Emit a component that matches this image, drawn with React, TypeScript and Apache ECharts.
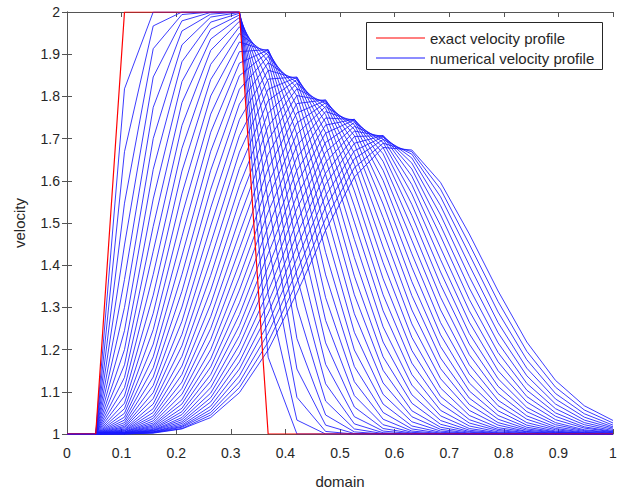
import React, { useEffect, useRef } from "react";
import * as echarts from "echarts";

// grid points of the domain (20 nodes)
const domainX = [0, 0.0526, 0.1053, 0.1579, 0.2105, 0.2632, 0.3158, 0.3684, 0.4211, 0.4737, 0.5263, 0.5789, 0.6316, 0.6842, 0.7368, 0.7895, 0.8421, 0.8947, 0.9474, 1];

// exact velocity profile
const exactProfile = [1, 1, 2, 2, 2, 2, 2, 1, 1, 1, 1, 1, 1, 1, 1, 1, 1, 1, 1, 1];

// numerical velocity profiles (one row per snapshot, values at the domain nodes)
const numericalProfiles = [
  [1,1,1.818,2,2,2,2,1.182,1,1,1,1,1,1,1,1,1,1,1,1],
  [1,1,1.669,1.967,2,2,2,1.331,1.033,1,1,1,1,1,1,1,1,1,1,1],
  [1,1,1.547,1.913,1.994,2,2,1.453,1.087,1.006,1,1,1,1,1,1,1,1,1,1],
  [1,1,1.448,1.846,1.979,1.999,2,1.552,1.154,1.021,1.001,1,1,1,1,1,1,1,1,1],
  [1,1,1.366,1.774,1.955,1.995,2,1.634,1.226,1.045,1.005,1,1,1,1,1,1,1,1,1],
  [1,1,1.3,1.7,1.922,1.988,1.999,1.7,1.301,1.078,1.012,1.001,1,1,1,1,1,1,1,1],
  [1,1,1.245,1.627,1.882,1.976,1.997,1.755,1.373,1.119,1.024,1.003,1,1,1,1,1,1,1,1],
  [1,1,1.2,1.557,1.835,1.959,1.993,1.799,1.443,1.165,1.041,1.007,1.001,1,1,1,1,1,1,1],
  [1,1,1.164,1.492,1.785,1.936,1.987,1.834,1.508,1.216,1.064,1.013,1.002,1,1,1,1,1,1,1],
  [1,1,1.134,1.433,1.731,1.909,1.978,1.862,1.567,1.269,1.091,1.022,1.004,1,1,1,1,1,1,1],
  [1,1,1.11,1.378,1.677,1.876,1.965,1.883,1.621,1.323,1.124,1.035,1.007,1.001,1,1,1,1,1,1],
  [1,1,1.09,1.329,1.623,1.84,1.949,1.898,1.669,1.377,1.16,1.051,1.012,1.002,1,1,1,1,1,1],
  [1,1,1.073,1.286,1.569,1.801,1.929,1.907,1.71,1.43,1.199,1.071,1.019,1.004,1.001,1,1,1,1,1],
  [1,1,1.06,1.247,1.518,1.758,1.906,1.911,1.746,1.481,1.241,1.094,1.029,1.007,1.001,1,1,1,1,1],
  [1,1,1.049,1.213,1.468,1.715,1.879,1.91,1.776,1.529,1.285,1.121,1.041,1.011,1.002,1,1,1,1,1],
  [1,1,1.04,1.183,1.422,1.67,1.849,1.905,1.801,1.574,1.33,1.151,1.055,1.016,1.004,1.001,1,1,1,1],
  [1,1,1.033,1.157,1.378,1.625,1.817,1.895,1.82,1.615,1.374,1.183,1.073,1.023,1.006,1.001,1,1,1,1],
  [1,1,1.027,1.135,1.338,1.58,1.782,1.88,1.833,1.653,1.418,1.218,1.093,1.032,1.009,1.002,1,1,1,1],
  [1,1,1.022,1.115,1.301,1.536,1.745,1.862,1.842,1.685,1.461,1.254,1.116,1.043,1.013,1.003,1.001,1,1,1],
  [1,1,1.018,1.098,1.267,1.493,1.707,1.841,1.846,1.714,1.502,1.292,1.141,1.056,1.019,1.005,1.001,1,1,1],
  [1,1,1.015,1.084,1.236,1.452,1.668,1.817,1.845,1.738,1.54,1.33,1.168,1.072,1.026,1.008,1.002,1,1,1],
  [1,1,1.012,1.071,1.209,1.413,1.629,1.79,1.84,1.757,1.576,1.368,1.198,1.089,1.034,1.011,1.003,1.001,1,1],
  [1,1,1.01,1.06,1.184,1.376,1.589,1.76,1.831,1.772,1.609,1.406,1.229,1.109,1.044,1.015,1.005,1.001,1,1],
  [1,1,1.008,1.051,1.161,1.341,1.551,1.729,1.818,1.783,1.639,1.443,1.261,1.131,1.056,1.021,1.006,1.002,1,1],
  [1,1,1.007,1.043,1.141,1.308,1.512,1.697,1.802,1.789,1.665,1.479,1.294,1.155,1.07,1.027,1.009,1.003,1.001,1],
  [1,1,1.005,1.037,1.123,1.278,1.475,1.663,1.783,1.792,1.688,1.513,1.328,1.18,1.085,1.035,1.012,1.004,1.001,1],
  [1,1,1.004,1.031,1.108,1.25,1.439,1.629,1.761,1.79,1.707,1.545,1.361,1.207,1.102,1.044,1.016,1.005,1.002,1],
  [1,1,1.004,1.026,1.094,1.224,1.405,1.594,1.737,1.785,1.722,1.574,1.395,1.235,1.121,1.055,1.021,1.007,1.002,1.001],
  [1,1,1.003,1.022,1.081,1.2,1.372,1.56,1.711,1.776,1.733,1.601,1.427,1.264,1.142,1.067,1.027,1.01,1.003,1.001],
  [1,1,1.002,1.019,1.071,1.178,1.341,1.526,1.683,1.764,1.741,1.625,1.459,1.294,1.164,1.08,1.035,1.013,1.004,1.001],
  [1,1,1.002,1.016,1.061,1.159,1.311,1.492,1.655,1.749,1.745,1.646,1.489,1.324,1.188,1.096,1.043,1.017,1.006,1.002],
  [1,1,1.002,1.013,1.053,1.141,1.283,1.459,1.625,1.732,1.746,1.664,1.518,1.354,1.213,1.113,1.053,1.022,1.008,1.003],
  [1,1,1.001,1.011,1.046,1.125,1.257,1.427,1.595,1.713,1.744,1.679,1.544,1.384,1.238,1.131,1.063,1.027,1.01,1.004],
  [1,1,1.001,1.009,1.039,1.11,1.233,1.396,1.564,1.691,1.738,1.691,1.569,1.413,1.265,1.15,1.076,1.034,1.014,1.005],
  [1,1,1.001,1.008,1.034,1.097,1.211,1.367,1.534,1.668,1.729,1.699,1.591,1.441,1.292,1.171,1.089,1.042,1.017,1.006],
  [1,1,1.001,1.007,1.029,1.086,1.19,1.338,1.503,1.644,1.718,1.705,1.611,1.469,1.319,1.193,1.104,1.05,1.022,1.008],
  [1,1,1.001,1.005,1.025,1.076,1.171,1.311,1.473,1.618,1.705,1.707,1.628,1.494,1.346,1.216,1.12,1.06,1.027,1.011],
  [1,1,1,1.005,1.021,1.066,1.154,1.286,1.444,1.592,1.689,1.707,1.642,1.519,1.373,1.24,1.138,1.071,1.033,1.014],
  [1,1,1,1.004,1.018,1.058,1.138,1.262,1.415,1.565,1.671,1.704,1.654,1.541,1.4,1.264,1.156,1.083,1.04,1.017],
  [1,1,1,1.003,1.016,1.051,1.123,1.239,1.387,1.538,1.652,1.698,1.663,1.562,1.426,1.289,1.176,1.096,1.048,1.021],
  [1,1,1,1.003,1.013,1.045,1.11,1.218,1.36,1.51,1.631,1.689,1.669,1.58,1.45,1.314,1.196,1.111,1.057,1.026],
  [1,1,1,1.002,1.012,1.039,1.098,1.199,1.334,1.483,1.609,1.679,1.673,1.596,1.474,1.339,1.218,1.127,1.067,1.032],
];

const EXACT_NAME = "exact velocity profile";
const NUM_NAME = "numerical velocity profile";

const FONT = "'Liberation Sans', Arial, sans-serif";
const TEXT_COLOR = "#262626";
const AXIS_COLOR = "#555555";
const RED = "#ff0000";
const BLUE = "#1a1aff";

export default function App() {
  const ref = useRef<HTMLDivElement>(null);

  useEffect(() => {
    document.body.style.margin = "0";
    if (!ref.current) return;
    const chart = echarts.init(ref.current, undefined, { renderer: "svg" });

    const toPairs = (row: number[]) => domainX.map((x, i) => [x, row[i]]);

    const blueSeries = numericalProfiles.map((row) => ({
      type: "line" as const,
      name: NUM_NAME,
      data: toPairs(row),
      symbol: "none",
      showSymbol: false,
      silent: true,
      color: BLUE,
      lineStyle: { color: BLUE, width: 1, opacity: 0.85 },
      itemStyle: { color: BLUE },
      z: 2,
    }));

    const redSeries = {
      type: "line" as const,
      name: EXACT_NAME,
      data: toPairs(exactProfile),
      symbol: "none",
      showSymbol: false,
      silent: true,
      color: RED,
      lineStyle: { color: RED, width: 1.2 },
      itemStyle: { color: RED },
      z: 3,
    };

    const axisCommon = {
      axisLine: { show: true, lineStyle: { color: AXIS_COLOR, width: 1 } },
      axisTick: { show: true, inside: true, length: 5, lineStyle: { color: AXIS_COLOR } },
      splitLine: { show: false },
      minorTick: { show: false },
    };

    // legend box drawn as graphic elements (MATLAB-style)
    const legendGraphic = [
      {
        type: "rect",
        shape: { x: 366.5, y: 22.5, width: 236, height: 47 },
        style: { fill: "#ffffff", stroke: "#262626", lineWidth: 1 },
        z: 100,
        silent: true,
      },
      {
        type: "line",
        shape: { x1: 376, y1: 38, x2: 425, y2: 38 },
        style: { stroke: RED, lineWidth: 1.2 },
        z: 101,
        silent: true,
      },
      {
        type: "line",
        shape: { x1: 376, y1: 58, x2: 425, y2: 58 },
        style: { stroke: BLUE, lineWidth: 1 },
        z: 101,
        silent: true,
      },
      {
        type: "text",
        x: 430,
        y: 38,
        style: { text: EXACT_NAME, fill: TEXT_COLOR, fontSize: 15, fontFamily: FONT, verticalAlign: "middle", align: "left" },
        z: 101,
        silent: true,
      },
      {
        type: "text",
        x: 430,
        y: 58,
        style: { text: NUM_NAME, fill: TEXT_COLOR, fontSize: 15, fontFamily: FONT, verticalAlign: "middle", align: "left" },
        z: 101,
        silent: true,
      },
    ];

    chart.setOption({
      animation: false,
      backgroundColor: "#ffffff",
      textStyle: { fontFamily: FONT },
      grid: { left: 67, right: 9, top: 12, bottom: 54, containLabel: false },
      graphic: legendGraphic,
      xAxis: [
        {
          type: "value",
          position: "bottom",
          min: 0,
          max: 1,
          interval: 0.1,
          ...axisCommon,
          axisLabel: { color: TEXT_COLOR, fontSize: 14, fontFamily: FONT, margin: 12 },
          name: "domain",
          nameLocation: "middle",
          nameGap: 40,
          nameTextStyle: { color: TEXT_COLOR, fontSize: 15, fontFamily: FONT },
        },
        {
          type: "value",
          position: "top",
          min: 0,
          max: 1,
          interval: 0.1,
          ...axisCommon,
          axisLabel: { show: false },
        },
      ],
      yAxis: [
        {
          type: "value",
          position: "left",
          min: 1,
          max: 2,
          interval: 0.1,
          ...axisCommon,
          axisLabel: { color: TEXT_COLOR, fontSize: 14, fontFamily: FONT, margin: 7 },
          name: "velocity",
          nameLocation: "middle",
          nameGap: 40,
          nameRotate: 90,
          nameTextStyle: { color: TEXT_COLOR, fontSize: 15, fontFamily: FONT },
        },
        {
          type: "value",
          position: "right",
          min: 1,
          max: 2,
          interval: 0.1,
          ...axisCommon,
          axisLabel: { show: false },
        },
      ],
      series: [...blueSeries, redSeries],
    });

    return () => {
      chart.dispose();
    };
  }, []);

  return (
    <div
      ref={ref}
      style={{ width: 622, height: 494, position: "absolute", left: 0, top: 0, background: "#fff" }}
    />
  );
}
